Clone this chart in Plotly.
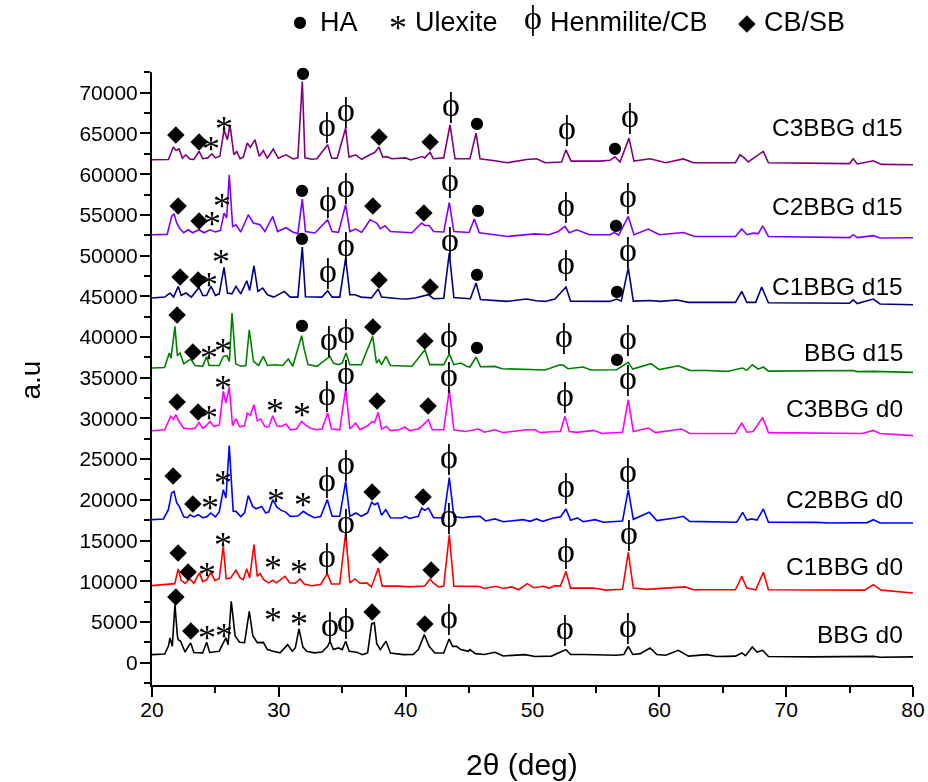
import plotly.graph_objects as go

# ---------------- data (2theta in deg, intensity in a.u. incl. stacking offset) ----------------
BBG_D0 = [(20, 980), (21.0, 1050), (21.29, 2000), (21.42, 3030), (21.6, 2000), (21.81, 7120), (22.0, 3300),
          (22.07, 2820), (22.26, 2620), (22.6, 1300), (23.05, 2420), (23.3, 1250), (24.0, 1200), (24.31, 2490),
          (24.55, 1250), (25.3, 1400), (25.62, 2420), (25.83, 3030), (26.0, 2200), (26.25, 7530), (26.55, 3300),
          (26.9, 2500), (27.3, 2450), (27.67, 6300), (27.95, 3300), (28.3, 2450), (28.78, 2490), (29.1, 1600),
          (29.56, 1390), (30.1, 1200), (30.7, 2210), (31.05, 1400), (31.3, 1800), (31.59, 4140), (31.9, 1900),
          (32.2, 1400), (32.8, 1200), (33.4, 1300), (33.85, 2000), (34.03, 2620), (34.3, 1600), (34.7, 1800),
          (35.0, 1600), (35.27, 2620), (35.55, 1390), (36.14, 1270), (36.6, 980), (37.0, 1200), (37.32, 4790),
          (37.53, 4880), (37.72, 2330), (38.0, 1600), (38.45, 2620), (38.8, 1190), (39.81, 980), (40.6, 1000),
          (41.0, 1600), (41.47, 3440), (41.85, 2000), (42.3, 1190), (43.0, 1190), (43.42, 2910), (43.7, 2000),
          (44.02, 2000), (44.34, 1600), (44.94, 1390), (45.07, 1600), (45.5, 1100), (46.2, 1000), (47.04, 1270),
          (47.7, 820), (49.41, 980), (50.2, 750), (51.5, 800), (52.17, 1270), (52.64, 1600), (53.0, 1000),
          (54.0, 1000), (56.6, 900), (57.2, 1000), (57.55, 2000), (57.9, 1000), (58.5, 1100), (59.27, 1800),
          (59.8, 1000), (60.5, 900), (61.5, 1510), (62.3, 800), (63.74, 980), (64.5, 750), (65.31, 770),
          (66.0, 800), (66.5, 1190), (66.8, 850), (67.33, 1930), (67.7, 1300), (68.15, 1510), (68.6, 750),
          (72.0, 700), (76.0, 750), (76.87, 770), (77.4, 650), (80, 700)]

C1BBG_D0 = [(20, 9456), (21.0, 9550), (21.8, 9700), (22.07, 11510), (22.3, 10100), (22.6, 9750), (23.0, 10280),
            (23.3, 9750), (23.73, 11020), (24.0, 9950), (24.3, 10150), (24.65, 11090), (24.95, 10100),
            (25.3, 10300), (25.62, 14280), (25.85, 10300), (26.2, 10400), (26.62, 11330), (26.95, 10400),
            (27.2, 10200), (27.47, 11510), (27.7, 10400), (28.04, 14490), (28.3, 10600), (28.52, 10930),
            (28.8, 10200), (29.2, 9800), (29.52, 10110), (29.8, 9800), (30.49, 10600), (30.85, 9800),
            (31.3, 9750), (31.67, 10280), (32.0, 9650), (32.6, 9450), (33.3, 9600), (33.82, 10930),
            (34.15, 9650), (34.8, 9650), (35.27, 15960), (35.6, 9800), (36.0, 10280), (36.4, 9750),
            (36.93, 9790), (37.3, 9300), (37.84, 11630), (38.15, 9400), (39.5, 9400), (39.95, 9370),
            (40.3, 9300), (41.5, 9400), (41.92, 10280), (42.18, 9790), (42.6, 9300), (43.0, 9400),
            (43.44, 15720), (43.8, 9400), (44.94, 9370), (45.3, 9300), (45.73, 9370), (46.2, 9100),
            (47.12, 9370), (47.7, 9100), (48.36, 9300), (48.9, 8950), (49.59, 9700), (50.1, 9200),
            (50.85, 9370), (51.3, 9150), (51.77, 9450), (52.2, 9400), (52.64, 11210), (53.0, 9150),
            (54.8, 9170), (55.8, 8900), (57.1, 9000), (57.55, 13550), (57.95, 9150), (59.0, 9000),
            (61.37, 9300), (62.03, 9300), (62.7, 8950), (66.0, 8950), (66.5, 10600), (66.9, 9150),
            (67.6, 8950), (68.2, 11090), (68.6, 8950), (76.2, 8900), (76.87, 9580), (77.5, 8900), (80, 8560)]

C2BBG_D0 = [(20, 17560), (20.9, 17650), (21.29, 18790), (21.55, 20840), (21.73, 21040), (21.95, 19610),
            (22.15, 19190), (22.5, 17900), (22.8, 17800), (23.0, 18170), (23.3, 17900), (23.65, 18170),
            (24.0, 17800), (24.3, 17900), (24.63, 18380), (25.0, 17900), (25.3, 18500), (25.62, 21240),
            (25.83, 20230), (26.09, 26650), (26.4, 18600), (26.62, 18580), (27.0, 17950), (27.3, 18400),
            (27.59, 20510), (27.94, 19190), (28.2, 18900), (28.65, 19190), (28.95, 18400), (29.2, 18500),
            (29.52, 20020), (29.85, 19100), (30.2, 18700), (30.57, 18460), (30.9, 17970), (31.5, 18000),
            (31.93, 18580), (32.3, 18200), (32.8, 17800), (33.3, 17950), (33.82, 20020), (34.2, 17970),
            (34.8, 17970), (35.27, 22260), (35.6, 17970), (36.08, 18380), (36.5, 17970), (37.0, 18400),
            (37.32, 19690), (37.55, 19400), (37.8, 19610), (38.1, 18100), (38.43, 18790), (38.8, 17800),
            (39.7, 17770), (40.0, 17970), (40.3, 17700), (41.0, 17970), (41.26, 18990), (41.5, 18700),
            (41.79, 18990), (42.2, 17800), (43.0, 17800), (43.44, 22720), (43.8, 17950), (44.5, 17800),
            (45.0, 17900), (45.86, 17970), (46.3, 17400), (47.04, 17650), (47.7, 17300), (49.27, 17560),
            (49.8, 17350), (50.33, 17650), (50.8, 17350), (51.64, 17770), (52.2, 17900), (52.64, 18870),
            (53.0, 17500), (53.53, 17770), (54.0, 17300), (54.93, 17560), (55.6, 17250), (57.1, 17400),
            (57.55, 21240), (57.95, 17600), (59.21, 18460), (59.8, 17450), (61.24, 17770), (61.89, 17970),
            (62.4, 17350), (66.1, 17250), (66.57, 18460), (66.9, 17500), (67.28, 17650), (67.7, 17500),
            (68.2, 18870), (68.6, 17250), (72.41, 17230), (73.5, 17150), (76.4, 17200), (76.87, 17560),
            (77.4, 17150), (80, 17150)]

C3BBG_D0 = [(20, 28490), (21.0, 28600), (21.47, 30250), (21.7, 29900), (21.89, 30450), (22.1, 29700),
            (22.5, 28800), (23.0, 28700), (23.4, 28800), (23.71, 29510), (24.0, 28800), (24.2, 29000),
            (24.57, 29630), (24.9, 29000), (25.3, 29200), (25.62, 33320), (25.83, 31890), (26.09, 33860),
            (26.35, 29100), (26.62, 29930), (26.9, 29000), (27.3, 29100), (27.51, 30660), (27.75, 30400),
            (28.04, 31680), (28.3, 29700), (28.57, 29930), (28.9, 29000), (29.2, 28950), (29.52, 30330),
            (29.85, 29100), (30.2, 29000), (30.57, 29310), (30.9, 28600), (31.4, 28700), (31.8, 29630),
            (32.1, 29200), (32.5, 28800), (33.0, 28600), (33.4, 28700), (33.85, 30660), (34.15, 28700),
            (34.8, 28600), (35.27, 33650), (35.6, 28700), (36.06, 29440), (36.4, 28600), (37.0, 29100),
            (37.37, 29630), (37.55, 29500), (37.84, 30740), (38.1, 28700), (38.5, 29020), (38.8, 28500),
            (39.5, 28600), (39.95, 28940), (40.3, 28500), (41.0, 28700), (41.26, 29020), (41.79, 29840),
            (42.1, 28600), (43.0, 28600), (43.44, 33520), (43.8, 28600), (44.7, 28400), (45.73, 28700),
            (46.2, 28300), (47.04, 28610), (47.7, 28250), (49.54, 28610), (50.2, 28600), (50.6, 28250),
            (51.5, 28350), (52.2, 28400), (52.56, 30250), (52.9, 28400), (53.49, 28280), (54.8, 28530),
            (55.5, 28150), (57.1, 28300), (57.55, 32300), (57.95, 28400), (59.13, 28820), (59.7, 28250),
            (61.76, 28700), (62.4, 28150), (66.0, 28150), (66.5, 29440), (66.9, 28300), (67.4, 28400),
            (68.15, 30120), (68.6, 28250), (76.0, 28150), (76.87, 28530), (77.4, 28150), (80, 27880)]

BBG_D15 = [(20, 36190), (21.0, 36250), (21.36, 38030), (21.5, 37400), (21.81, 41300), (22.0, 37700),
           (22.21, 38030), (22.5, 36700), (23.05, 37290), (23.4, 36500), (24.0, 36400), (24.31, 37610),
           (24.5, 36500), (25.3, 36500), (25.62, 37610), (25.9, 37700), (26.1, 37000), (26.31, 42940),
           (26.6, 36700), (27.0, 36400), (27.4, 36500), (27.67, 40890), (28.0, 37000), (28.4, 36500),
           (28.78, 37610), (29.1, 36500), (29.7, 36590), (30.3, 36500), (30.75, 37290), (31.1, 36400),
           (31.55, 38840), (31.8, 40160), (32.0, 38500), (32.3, 36600), (33.0, 36400), (34.03, 37610),
           (34.3, 36800), (34.69, 36590), (35.0, 36800), (35.3, 38030), (35.6, 36590), (36.5, 36590),
           (37.4, 40070), (37.7, 36800), (37.9, 37210), (38.1, 36600), (38.45, 37610), (38.8, 36500),
           (40.5, 36400), (41.52, 38440), (41.9, 36600), (43.0, 36600), (43.44, 37910), (43.8, 36600),
           (44.36, 36800), (44.8, 36400), (45.07, 36310), (45.55, 37540), (45.9, 36350), (47.04, 36390),
           (47.6, 36100), (49.54, 35980), (51.0, 35950), (52.17, 36590), (52.4, 36550), (52.8, 36100),
           (54.0, 36310), (54.6, 35950), (56.64, 35980), (57.55, 36880), (57.9, 36050), (59.34, 36720),
           (60.0, 36000), (61.5, 36470), (62.4, 35900), (63.74, 35890), (65.31, 35770), (66.57, 36190),
           (66.9, 35900), (67.33, 36590), (67.8, 36050), (68.2, 36310), (68.6, 35800), (75.29, 35890),
           (75.6, 35750), (76.87, 35770), (80, 35650)]

C1BBG_D15 = [(20, 44790), (21.0, 44900), (21.42, 45400), (21.7, 44900), (22.07, 46210), (22.3, 45100),
             (22.68, 45400), (23.1, 44900), (23.71, 46090), (24.0, 45100), (24.3, 45100), (24.65, 46210),
             (25.0, 45100), (25.3, 45300), (25.68, 48540), (25.95, 45400), (26.3, 45300), (26.62, 46210),
             (27.0, 45300), (27.47, 46910), (27.7, 45700), (28.04, 48750), (28.35, 45600), (28.73, 46010),
             (29.1, 45190), (29.6, 44900), (30.43, 45600), (30.9, 44900), (31.5, 44900), (31.85, 51050),
             (32.1, 44950), (32.8, 44900), (33.4, 44900), (33.85, 45680), (34.2, 44900), (34.8, 44900),
             (35.27, 49700), (35.6, 45200), (36.0, 45190), (36.5, 44900), (37.3, 44800), (37.84, 45890),
             (38.1, 44900), (39.5, 44700), (40.08, 44660), (40.74, 44790), (41.79, 45190), (42.2, 44700),
             (43.0, 44750), (43.44, 50310), (43.8, 44850), (45.1, 44700), (45.55, 46630), (45.9, 44600),
             (47.04, 44490), (48.0, 44370), (49.54, 44660), (50.3, 44450), (51.0, 44370), (51.77, 44660),
             (52.64, 46140), (53.0, 44400), (56.1, 44370), (56.64, 44660), (57.0, 44400), (57.55, 48500),
             (57.95, 44400), (59.27, 44490), (60.1, 44370), (61.37, 44550), (62.3, 44250), (66.0, 44250),
             (66.5, 45600), (66.9, 44250), (67.6, 44250), (68.07, 46140), (68.6, 44200), (75.0, 44150),
             (75.29, 44550), (75.6, 44100), (76.87, 44660), (77.4, 44050), (80, 43960)]

C2BBG_D15 = [(20, 52560), (21.2, 52600), (21.55, 54810), (21.73, 55140), (21.95, 54000), (22.2, 53300),
             (22.5, 52800), (22.86, 53170), (23.2, 52800), (23.71, 53170), (24.1, 52800), (24.57, 53170),
             (25.0, 52900), (25.4, 53100), (25.68, 55220), (25.89, 54610), (26.09, 59930), (26.36, 53580),
             (26.62, 53790), (27.0, 52900), (27.59, 55010), (27.99, 54000), (28.52, 53790), (28.9, 52950),
             (29.52, 54810), (29.9, 52950), (30.57, 53420), (31.1, 52900), (31.5, 52700), (31.85, 56940),
             (32.1, 52950), (32.85, 52770), (33.85, 54400), (34.2, 52950), (34.7, 52850), (35.27, 56240),
             (35.6, 52950), (36.06, 53260), (36.53, 52850), (37.19, 54400), (37.45, 54200), (37.72, 54000),
             (38.0, 53300), (38.37, 53660), (38.8, 52950), (39.95, 52840), (40.5, 52800), (41.26, 54000),
             (41.5, 53700), (41.86, 53700), (42.2, 52950), (43.0, 52900), (43.44, 56520), (43.8, 52950),
             (45.0, 52840), (45.41, 54490), (45.8, 52800), (47.04, 52560), (48.0, 52350), (50.2, 52660),
             (51.3, 52560), (52.03, 52960), (52.56, 53580), (52.9, 52800), (53.49, 53170), (54.5, 52560),
             (56.1, 52560), (56.45, 52840), (56.8, 52500), (57.55, 54810), (58.0, 52560), (59.13, 53260),
             (60.0, 52560), (61.89, 52840), (62.8, 52350), (66.0, 52350), (66.5, 53260), (66.9, 52560),
             (67.41, 52760), (67.8, 52700), (68.15, 53660), (68.6, 52350), (75.0, 52200), (75.29, 52560),
             (75.6, 52200), (76.87, 52450), (77.4, 52150), (80, 52190)]

C3BBG_D15 = [(20, 61770), (21.3, 61800), (21.68, 63330), (21.9, 62900), (22.13, 63120), (22.4, 61950),
             (22.66, 62380), (23.0, 61850), (23.3, 61800), (23.71, 62790), (24.0, 61900), (24.4, 62000),
             (24.71, 62500), (25.0, 62000), (25.35, 62200), (25.68, 65450), (25.94, 64220), (26.15, 66070),
             (26.45, 62400), (26.68, 62790), (26.94, 61900), (27.2, 62100), (27.51, 63820), (27.75, 63300),
             (28.12, 64220), (28.45, 62200), (28.78, 62910), (29.09, 61950), (29.56, 63080), (29.96, 61950),
             (30.57, 62380), (31.14, 61870), (31.5, 62000), (31.85, 71380), (32.06, 62000), (32.59, 61830),
             (33.0, 61900), (33.85, 63610), (34.17, 61950), (34.6, 61950), (35.27, 65660), (35.53, 62100),
             (36.06, 62380), (36.53, 61830), (37.19, 62380), (37.55, 62650), (37.9, 63330), (38.19, 62100),
             (38.5, 62150), (38.9, 61900), (40.0, 62000), (40.4, 61750), (41.31, 62170), (41.5, 62000),
             (41.92, 62670), (42.18, 61900), (43.0, 62000), (43.5, 66070), (43.89, 61900), (45.07, 61900),
             (45.55, 65050), (45.86, 61900), (47.04, 61650), (48.0, 61400), (49.54, 61800), (50.33, 61900),
             (51.0, 61400), (52.3, 61500), (52.64, 62990), (53.04, 61600), (55.3, 61600), (56.11, 61700),
             (56.5, 62140), (56.9, 61500), (57.61, 64430), (58.0, 61600), (59.27, 61890), (60.5, 61400),
             (61.89, 61870), (62.7, 61400), (66.0, 61400), (66.36, 62380), (66.7, 62000), (67.0, 61500),
             (68.2, 62790), (68.6, 61400), (75.0, 61300), (75.29, 61890), (75.6, 61250), (76.87, 61650),
             (77.5, 61200), (80, 61150)]

SERIES_NAMES = ["BBG d0", "C1BBG d0", "C2BBG d0", "C3BBG d0", "BBG d15", "C1BBG d15", "C2BBG d15", "C3BBG d15"]
SERIES_DATA = [BBG_D0, C1BBG_D0, C2BBG_D0, C3BBG_D0, BBG_D15, C1BBG_D15, C2BBG_D15, C3BBG_D15]
SERIES_COLORS = ["#000000", "#FF0000", "#0000FF", "#FF00FF", "#008000", "#000080", "#8000FF", "#800080"]
LABEL_Y = [3440, 11790, 20020, 31190, 38070, 46170, 56000, 65700]
LABEL_X = 79.4

# phase markers (2theta, position)
HA_MARKS = [(31.91, 72330), (45.62, 66190), (56.5, 63120),
            (31.83, 57960), (45.7, 55510), (56.58, 53660),
            (31.83, 52070), (45.62, 47650), (56.66, 45560),
            (31.83, 41380), (45.62, 38680), (56.66, 37210)]
ULEXITE_MARKS = [(24.65, 63490), (25.68, 65940),
                 (24.73, 54280), (25.52, 56490),
                 (24.49, 46790), (25.44, 49610),
                 (24.49, 37820), (25.6, 38680),
                 (24.49, 30450), (25.6, 34140), (29.7, 31310), (31.83, 30820),
                 (24.57, 19400), (25.6, 22470), (29.78, 20260), (31.91, 19770),
                 (24.34, 11180), (25.6, 14860), (29.54, 12030), (31.59, 11540),
                 (24.34, 3440), (25.68, 3680), (29.54, 5650), (31.59, 5160)]
PHI_MARKS = [(33.8, 65210), (35.3, 67050), (43.57, 67660), (52.72, 64840), (57.69, 66310),
             (33.88, 56000), (35.3, 57720), (43.5, 58450), (52.64, 55380), (57.53, 56490),
             (33.88, 47280), (35.3, 50470), (43.5, 51090), (52.64, 48260), (57.53, 49860),
             (33.96, 38930), (35.3, 39790), (43.42, 39300), (52.48, 39300), (57.53, 39050),
             (33.8, 32170), (35.3, 34750), (43.42, 34510), (52.56, 32050), (57.53, 34140),
             (33.8, 21610), (35.3, 23700), (43.42, 24440), (52.64, 20880), (57.53, 22720),
             (33.8, 12280), (35.3, 16460), (43.42, 17190), (52.64, 12890), (57.61, 15100),
             (34.03, 3810), (35.3, 4300), (43.42, 4790), (52.56, 3440), (57.53, 3680)]
DIAMOND_MARKS = [(21.89, 64840), (23.71, 63860), (37.9, 64590), (41.92, 63980),
                 (22.05, 56120), (23.71, 54160), (37.42, 56000), (41.44, 55140),
                 (22.21, 47280), (23.63, 46910), (37.9, 46910), (41.92, 46050),
                 (21.97, 42730), (23.23, 38070), (37.42, 41140), (41.52, 39420),
                 (21.97, 31930), (23.63, 30700), (37.74, 32050), (41.76, 31440),
                 (21.66, 22840), (23.23, 19400), (37.35, 20880), (41.37, 20260),
                 (22.05, 13390), (22.84, 11050), (37.98, 13140), (42.0, 11300),
                 (21.89, 7980), (23.07, 3810), (37.35, 6140), (41.52, 4670)]

# phase symbols and legend
SYM_HA, SYM_ULEX, SYM_PHI, SYM_DIAM = "●", "*", "ϕ", "◆"
LEGEND_SYMBOLS = [SYM_HA, SYM_ULEX, SYM_PHI, SYM_DIAM]
LEGEND_LABELS = ["HA", "Ulexite", "Henmilite/CB", "CB/SB"]

# ---------------- styling ----------------
SANS = "Liberation Sans, Arial, sans-serif"
SERIF = "Liberation Serif, Times New Roman, DejaVu Serif, serif"
SYMF = "DejaVu Sans, sans-serif"
PX = 75300 / 613.0          # data units per pixel on the y axis
SYMBOL_STYLE = {            # font family, size, vertical glyph correction in px (+ = up)
    SYM_HA: (SYMF, 16, 0),
    SYM_ULEX: (SERIF, 36, -6.5),
    SYM_PHI: (SERIF, 34, 4),
    SYM_DIAM: (SYMF, 23, 0),
}
LEGEND_SYM_X = [0.1945, 0.3233, 0.5007, 0.7819]   # paper x of legend symbols
LEGEND_TXT_X = [0.218, 0.343, 0.5204, 0.8016]
LEGEND_PY = 1.0816

fig = go.Figure()
for name, pts, col in zip(SERIES_NAMES, SERIES_DATA, SERIES_COLORS):
    fig.add_trace(go.Scatter(x=[p[0] for p in pts], y=[p[1] for p in pts], mode="lines", name=name,
                             line=dict(color=col, width=1.6), showlegend=False, hoverinfo="skip"))

for sym, marks in ((SYM_DIAM, DIAMOND_MARKS), (SYM_HA, HA_MARKS), (SYM_ULEX, ULEXITE_MARKS), (SYM_PHI, PHI_MARKS)):
    fam, size, shift = SYMBOL_STYLE[sym]
    fig.add_trace(go.Scatter(x=[p[0] for p in marks], y=[p[1] + shift * PX for p in marks], mode="text",
                             text=[sym] * len(marks), textposition="middle center", cliponaxis=False,
                             opacity=0.99,
                             textfont=dict(family=fam, size=size, color="black"),
                             showlegend=False, hoverinfo="skip"))

annotations = []
for name, y in zip(SERIES_NAMES, LABEL_Y):
    annotations.append(dict(x=LABEL_X, y=y, xref="x", yref="y", text=name, showarrow=False,
                            xanchor="right", yanchor="middle", font=dict(family=SANS, size=24.5, color="black")))

for sym, lab, sx, tx in zip(LEGEND_SYMBOLS, LEGEND_LABELS, LEGEND_SYM_X, LEGEND_TXT_X):
    fam, size, shift = SYMBOL_STYLE[sym]
    annotations.append(dict(x=sx, y=LEGEND_PY, xref="paper", yref="paper", text=sym, showarrow=False,
                            xanchor="center", yanchor="middle", yshift=shift, opacity=0.99,
                            font=dict(family=fam, size=size, color="black")))
    annotations.append(dict(x=tx, y=LEGEND_PY, xref="paper", yref="paper", text=lab, showarrow=False,
                            xanchor="left", yanchor="middle", font=dict(family=SANS, size=27, color="black")))

annotations.append(dict(x=0.486, y=-0.13, xref="paper", yref="paper", text="2θ (deg)", showarrow=False,
                        xanchor="center", yanchor="middle", font=dict(family=SANS, size=30, color="black")))
annotations.append(dict(x=-0.160, y=0.497, xref="paper", yref="paper", text="a.u", showarrow=False, textangle=-90,
                        xanchor="center", yanchor="middle", font=dict(family=SANS, size=28, color="black")))

fig.update_layout(
    width=928, height=782,
    margin=dict(l=152, r=15, t=72, b=97, autoexpand=False),
    paper_bgcolor="white", plot_bgcolor="white",
    annotations=annotations,
    showlegend=False,
    xaxis=dict(range=[20, 80], tick0=20, dtick=10, ticks="outside", ticklen=10, tickwidth=2, tickcolor="black",
               showline=True, linecolor="black", linewidth=2, showgrid=False, zeroline=False, automargin=False,
               ticklabelstandoff=-5,
               tickfont=dict(family=SANS, size=21, color="black"),
               minor=dict(dtick=5, ticks="outside", ticklen=6, tickwidth=2, tickcolor="black", showgrid=False)),
    yaxis=dict(range=[-2750, 72550], tick0=0, dtick=5000, ticks="outside", ticklen=10, tickwidth=2, tickcolor="black",
               showline=True, linecolor="black", linewidth=2, showgrid=False, zeroline=False, tickformat="d",
               automargin=False, ticklabelstandoff=-2,
               tickfont=dict(family=SANS, size=21, color="black"),
               minor=dict(dtick=2500, ticks="outside", ticklen=6, tickwidth=2, tickcolor="black", showgrid=False)),
)

fig.write_html("out.html")
